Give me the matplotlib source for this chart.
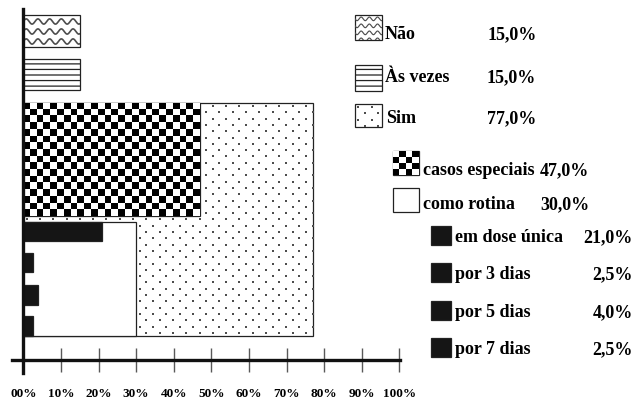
import numpy as np
import matplotlib.pyplot as plt
from matplotlib.patches import Rectangle

plt.rcParams['font.family'] = ['Liberation Serif', 'DejaVu Serif']
plt.rcParams['font.weight'] = 'bold'
plt.rcParams['hatch.linewidth'] = 0.9

# dados
categorias = ['Não', 'Às vezes', 'Sim', 'casos especiais', 'como rotina',
              'em dose única', 'por 3 dias', 'por 5 dias', 'por 7 dias']
valores = [15.0, 15.0, 77.0, 47.0, 30.0, 21.0, 2.5, 4.0, 2.5]
ticks = [0, 10, 20, 30, 40, 50, 60, 70, 80, 90, 100]
tick_labels = ['00%', '10%', '20%', '30%', '40%', '50%', '60%', '70%', '80%', '90%', '100%']

# layout (posicoes verticais das barras, 1 unidade = 10 px)
base = [31.3, 27.0, 2.4, 14.4, 2.4, 11.9, 8.8, 5.5, 2.4]
altura = [3.2, 3.1, 23.3, 11.3, 11.4, 1.9, 1.9, 2.0, 2.0]
estilo = ['ondas', 'linhas', 'pontos', 'xadrez', 'branco', 'preto', 'preto', 'preto', 'preto']
ordem_z = [6, 6, 2, 3, 3, 4, 4, 4, 4]

# legenda em pixels
leg_caixa = [(355, 16, 27, 25), (355, 66, 27, 26), (355, 105, 27, 23),
             (393, 152, 26, 24), (393, 189, 26, 24),
             (431, 227, 20, 19), (431, 264, 20, 19), (431, 302, 20, 19), (431, 339, 20, 19)]
leg_x = [385, 385, 386, 423, 423, 455, 455, 455, 455]
leg_y = [39, 82, 123, 175, 209, 242, 279, 317, 354]
val_x = [488, 487, 487, 540, 540, 633, 633, 633, 633]
val_ha = ['left', 'left', 'left', 'left', 'left', 'right', 'right', 'right', 'right']


def textura(ax, r, tipo, sx, sy, esc=1.0):
    x0, y0, w, h = r.get_x(), r.get_y(), r.get_width(), r.get_height()
    z = r.get_zorder() + 0.1
    if tipo == 'ondas':
        per = 11.7 * esc / sx
        gap = 10.0 * esc / sy
        amp = 2.6 * esc / sy
        xs = np.linspace(x0, x0 + w, 300)
        for yc in np.arange(y0 + gap * 0.55, y0 + h, gap):
            ln, = ax.plot(xs, yc + amp * np.sin(2 * np.pi * (xs - x0) / per),
                          color='0.3', lw=1.2 * esc, zorder=z)
            ln.set_clip_path(r)
    elif tipo == 'pontos':
        dx = 13.3 / sx
        dy = 6.3 / sy
        px, py = [], []
        for i, yr in enumerate(np.arange(y0 + dy / 2, y0 + h, dy)):
            for xc in np.arange(x0 + dx / 4 + (dx / 2 if i % 2 else 0), x0 + w, dx):
                px.append(xc)
                py.append(yr)
        sc = ax.scatter(px, py, s=2.2, marker='s', color='0.3', linewidths=0, zorder=z)
        sc.set_clip_path(r)
    elif tipo == 'xadrez':
        cel = 6.7 * esc
        nx = max(1, int(round(w * sx / cel)))
        ny = max(1, int(round(abs(h) * sy / cel)))
        grade = np.add.outer(np.arange(ny), np.arange(nx)) % 2
        xl, yl = ax.get_xlim(), ax.get_ylim()
        im = ax.imshow(grade, cmap='gray', extent=(x0, x0 + w, y0, y0 + h),
                       aspect='auto', interpolation='nearest', zorder=z)
        im.set_clip_path(r)
        ax.set_xlim(xl)
        ax.set_ylim(yl)


def retangulo(ax, x, y, w, h, tipo, z):
    cor = {'preto': '#151515', 'branco': 'white'}.get(tipo, 'white')
    hatch = '---' if tipo == 'linhas' else None
    r = Rectangle((x, y), w, h, facecolor=cor, edgecolor='#222222', lw=0.9,
                  hatch=hatch, zorder=z)
    ax.add_patch(r)
    return r


fig = plt.figure(figsize=(6.38, 4.02), dpi=100)
ax = fig.add_axes([23.3 / 638, 41 / 402, 376 / 638, 351 / 402])
ax.set_xlim(0, 100)
ax.set_ylim(0, 35.1)
sx, sy = 3.76, 10.0

for i in range(len(categorias)):
    r = retangulo(ax, 0, base[i], valores[i], altura[i], estilo[i], ordem_z[i])
    textura(ax, r, estilo[i], sx, sy)

for s in ax.spines.values():
    s.set_visible(False)
ax.plot([-3.1, 100.2], [0, 0], color='#111111', lw=2.4, clip_on=False, zorder=10)
ax.plot([0, 0], [-1.3, 35.1], color='#111111', lw=2.4, clip_on=False, zorder=10)
ax.set_xticks(ticks)
ax.set_xticklabels(tick_labels, fontsize=9.5, fontweight='bold')
ax.tick_params(axis='x', direction='inout', length=17, width=1.0, color='0.35', pad=11)
ax.set_yticks([])

# legenda
lg = fig.add_axes([0, 0, 1, 1])
lg.set_xlim(0, 638)
lg.set_ylim(402, 0)
lg.axis('off')
for i in range(len(categorias)):
    x, y, w, h = leg_caixa[i]
    r = retangulo(lg, x, y, w, h, estilo[i], 2)
    textura(lg, r, estilo[i], 1.0, 1.0, esc=0.7 if estilo[i] == 'ondas' else 1.0)
    lg.text(leg_x[i], leg_y[i], categorias[i], fontsize=13, fontweight='bold',
            va='baseline', ha='left')
    lg.text(val_x[i], leg_y[i], ('%.1f%%' % valores[i]).replace('.', ','),
            fontsize=13, fontweight='bold', va='baseline', ha=val_ha[i])
lg.set_xlim(0, 638)
lg.set_ylim(402, 0)

fig.savefig('out.png', dpi=100)
